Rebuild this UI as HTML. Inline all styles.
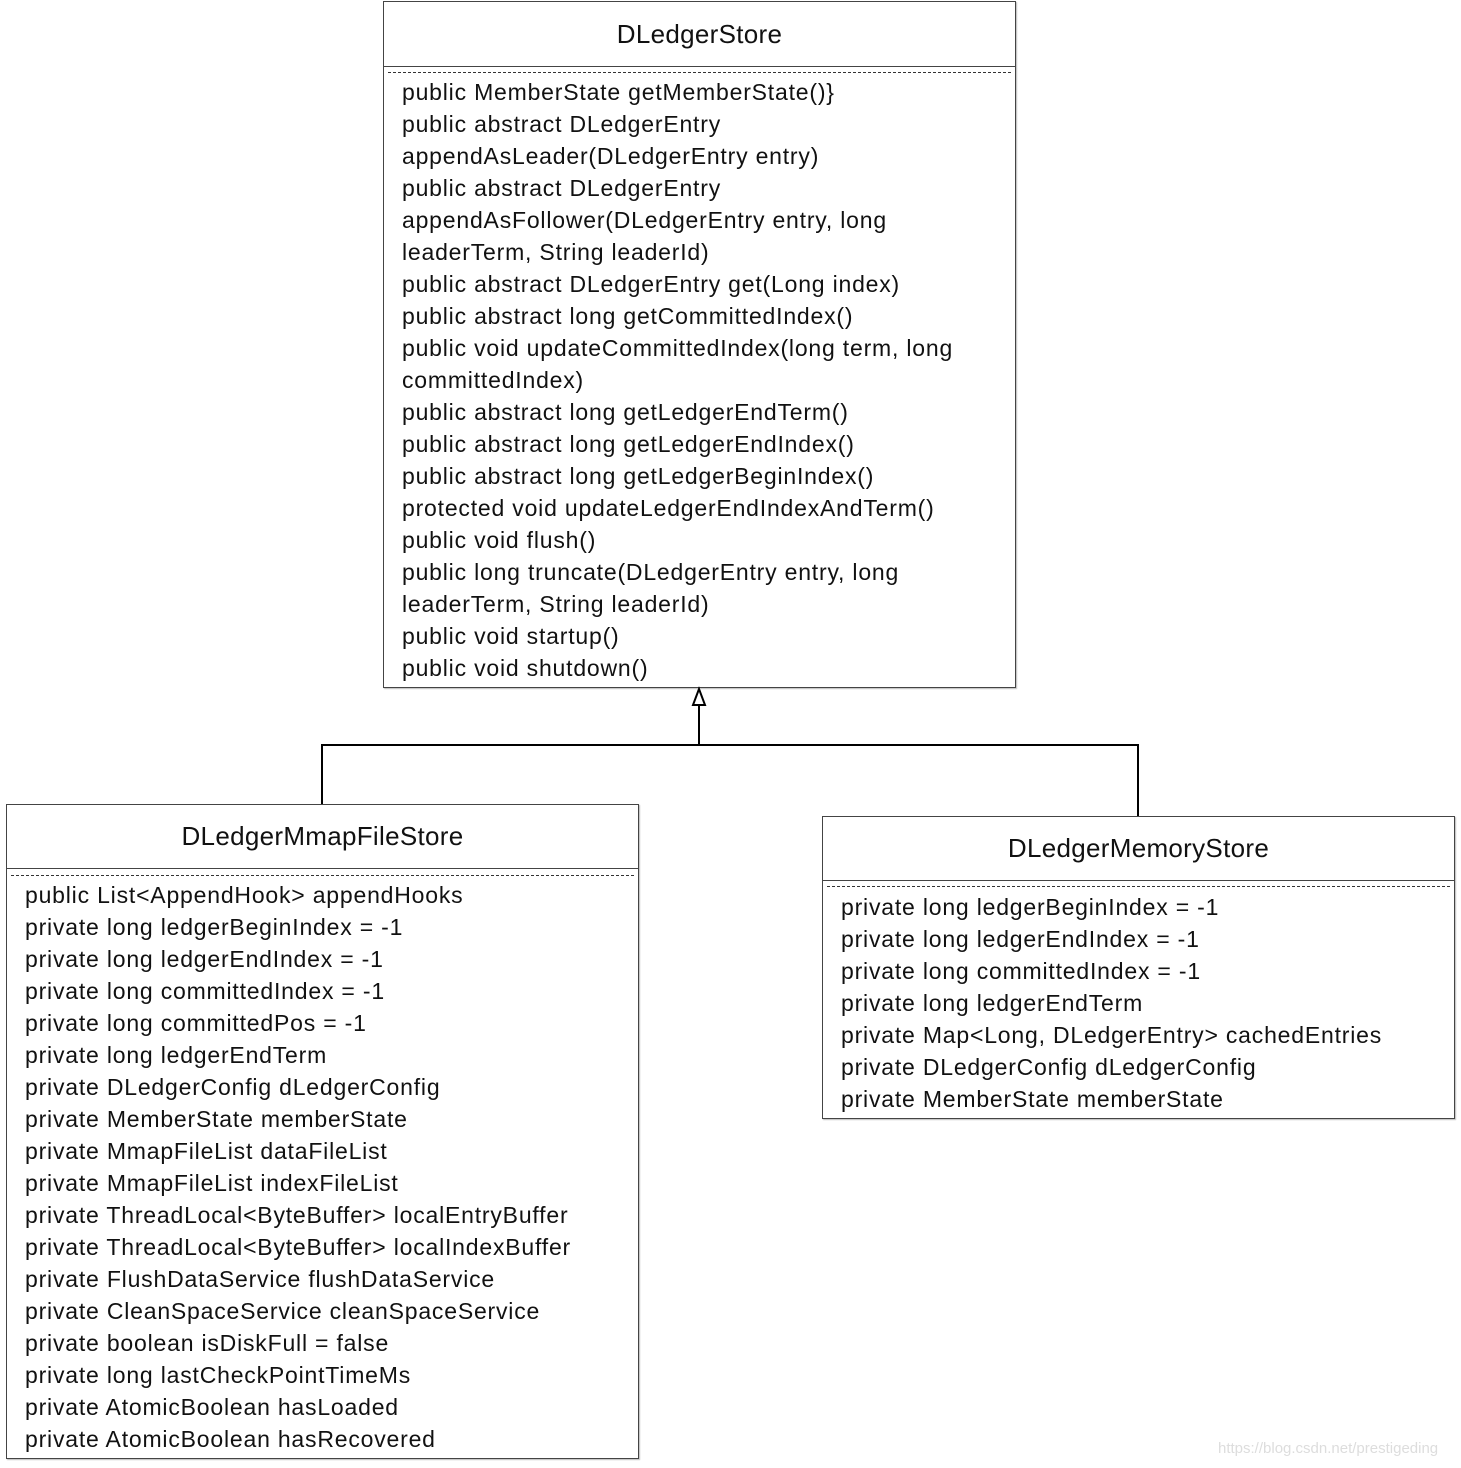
<!DOCTYPE html>
<html><head><style>
body{margin:0;width:1461px;height:1468px;background:#fff;position:relative;font-family:"Liberation Sans",sans-serif;overflow:hidden}
.box{position:absolute;border:1px solid #444;background:#fff;box-shadow:1px 1px 1px #bbb}
.hd{position:absolute;left:0;right:0;top:0;border-bottom:1px solid #444;text-align:center;font-size:26px;letter-spacing:0.3px;color:#111}
.ds{position:absolute;left:4px;right:4px;border-top:1px dashed #333}
.ln{position:absolute;font-size:23px;letter-spacing:0.8px;line-height:32px;white-space:pre;color:#111}
</style></head><body>
<div class="box" style="left:383px;top:1px;width:631px;height:685px">
 <div class="hd" style="height:64px;line-height:64px">DLedgerStore</div>
 <div class="ds" style="top:70px"></div>
 <div class="ln" style="left:18px;top:74px">public MemberState getMemberState()}
public abstract DLedgerEntry
appendAsLeader(DLedgerEntry entry)
public abstract DLedgerEntry
appendAsFollower(DLedgerEntry entry, long
leaderTerm, String leaderId)
public abstract DLedgerEntry get(Long index)
public abstract long getCommittedIndex()
public void updateCommittedIndex(long term, long
committedIndex)
public abstract long getLedgerEndTerm()
public abstract long getLedgerEndIndex()
public abstract long getLedgerBeginIndex()
protected void updateLedgerEndIndexAndTerm()
public void flush()
public long truncate(DLedgerEntry entry, long
leaderTerm, String leaderId)
public void startup()
public void shutdown()</div>
</div>
<svg style="position:absolute;left:0;top:0" width="1461" height="1468">
 <polyline points="322,804 322,745 1138,745 1138,816" fill="none" stroke="#000" stroke-width="2"/>
 <line x1="699" y1="745" x2="699" y2="705" stroke="#000" stroke-width="2"/>
 <polygon points="699,689 693,705 705,705" fill="#fff" stroke="#000" stroke-width="2"/>
</svg>
<div class="box" style="left:6px;top:804px;width:631px;height:653px">
 <div class="hd" style="height:63px;line-height:63px">DLedgerMmapFileStore</div>
 <div class="ds" style="top:70px"></div>
 <div class="ln" style="left:18px;top:74px">public List&lt;AppendHook&gt; appendHooks
private long ledgerBeginIndex = -1
private long ledgerEndIndex = -1
private long committedIndex = -1
private long committedPos = -1
private long ledgerEndTerm
private DLedgerConfig dLedgerConfig
private MemberState memberState
private MmapFileList dataFileList
private MmapFileList indexFileList
private ThreadLocal&lt;ByteBuffer&gt; localEntryBuffer
private ThreadLocal&lt;ByteBuffer&gt; localIndexBuffer
private FlushDataService flushDataService
private CleanSpaceService cleanSpaceService
private boolean isDiskFull = false
private long lastCheckPointTimeMs
private AtomicBoolean hasLoaded
private AtomicBoolean hasRecovered</div>
</div>
<div class="box" style="left:822px;top:816px;width:631px;height:301px">
 <div class="hd" style="height:63px;line-height:63px">DLedgerMemoryStore</div>
 <div class="ds" style="top:69px"></div>
 <div class="ln" style="left:18px;top:74px">private long ledgerBeginIndex = -1
private long ledgerEndIndex = -1
private long committedIndex = -1
private long ledgerEndTerm
private Map&lt;Long, DLedgerEntry&gt; cachedEntries
private DLedgerConfig dLedgerConfig
private MemberState memberState</div>
</div>
<div style="position:absolute;left:1218px;top:1440px;font-size:15px;color:#ddd">https://blog.csdn.net/prestigeding</div>
</body></html>
